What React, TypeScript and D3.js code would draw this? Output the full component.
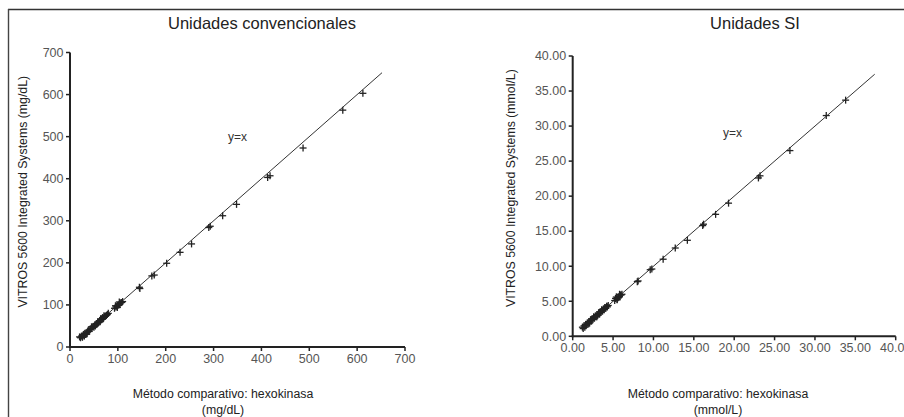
import React from "react";
import * as d3 from "d3";

// ---- Data: conventional units (mg/dL) ----
const convX = [612, 570, 487, 413, 418, 348, 319, 293, 290, 254, 230, 202, 176, 171, 146, 145,
  93, 96, 98, 100, 102, 104, 106, 108, 110, 95, 99, 103,
  20, 22, 24, 26, 27, 28, 30, 31, 33, 35, 37, 38, 40, 42, 44, 46, 48, 50, 52, 54, 55, 57, 58, 60, 62, 63, 65, 67, 68, 70, 72, 74, 76, 78, 80, 35, 45, 53, 64, 71];
const convY = [603, 563, 473, 403, 407, 339, 312, 287, 284, 245, 225, 199, 171, 169, 139, 142,
  92, 95, 97, 99, 100, 103, 105, 106, 108, 98, 94, 107,
  24, 22, 26, 23, 27, 30, 26, 32, 30, 34, 36, 40, 37, 42, 44, 45, 49, 47, 52, 53, 56, 55, 59, 58, 62, 60, 65, 66, 70, 68, 72, 73, 75, 77, 80, 31, 48, 50, 67, 74];

// ---- Data: SI units (mmol/L) ----
const siX = [33.8, 31.4, 26.9, 23.0, 23.2, 19.3, 17.7, 16.2, 16.1, 14.2, 12.7, 11.2, 9.8, 9.6, 8.0, 8.1,
  5.2, 5.3, 5.5, 5.6, 5.7, 5.8, 5.9, 6.0, 6.1, 5.4, 5.5, 5.8,
  1.2, 1.3, 1.4, 1.5, 1.6, 1.7, 1.8, 1.9, 2.0, 2.1, 2.2, 2.3, 2.4, 2.5, 2.6, 2.7, 2.8, 2.9, 3.0, 3.1, 3.2, 3.3, 3.4, 3.5, 3.6, 3.7, 3.8, 3.9, 4.0, 4.1, 4.2, 4.3, 4.4, 2.0, 2.6, 3.0, 3.6, 4.0];
const siY = [33.7, 31.5, 26.5, 22.6, 22.9, 19.0, 17.4, 16.0, 15.8, 13.7, 12.6, 11.0, 9.6, 9.5, 7.8, 7.9,
  5.1, 5.4, 5.3, 5.5, 5.6, 5.7, 5.9, 5.9, 6.0, 5.6, 5.2, 6.0,
  1.3, 1.1, 1.5, 1.3, 1.7, 1.6, 1.9, 1.8, 2.1, 1.9, 2.3, 2.2, 2.5, 2.4, 2.7, 2.6, 2.9, 2.8, 3.1, 3.0, 3.3, 3.2, 3.5, 3.4, 3.7, 3.6, 3.9, 3.8, 4.1, 4.0, 4.3, 4.2, 4.4, 1.8, 2.8, 2.8, 3.8, 4.1];

const convTicks = [0, 100, 200, 300, 400, 500, 600, 700];
const siTicks = [0, 5, 10, 15, 20, 25, 30, 35, 40];

const FONT = "'Liberation Sans', Arial, Helvetica, sans-serif";
const TEXT = "#222";
const TICKTXT = "#555";

type PanelProps = {
  xs: number[];
  ys: number[];
  ticks: number[];
  domainMax: number;
  xRange: [number, number];
  yRange: [number, number];
  fmt: (v: number) => string;
  lineFrom: number;
  lineTo: number;
  labelAt: [number, number];
  title: string;
  titleX: number;
  yLabel: string;
  yLabelX: number;
  xLabel: string;
  xUnit: string;
  xLabelX: number;
};

function Panel(p: PanelProps) {
  const x = d3.scaleLinear().domain([0, p.domainMax]).range(p.xRange);
  const y = d3.scaleLinear().domain([0, p.domainMax]).range(p.yRange);
  const x0 = p.xRange[0];
  const y0 = p.yRange[0];
  const tl = 4;
  const m = 3.5;
  const yMid = (p.yRange[0] + p.yRange[1]) / 2 - 8;
  return (
    <g>
      <text x={p.titleX} y={29} textAnchor="middle" fontFamily={FONT} fontSize={16.5} fill={TEXT}>
        {p.title}
      </text>
      {/* y=x line */}
      <line x1={x(p.lineFrom)} y1={y(p.lineFrom)} x2={x(p.lineTo)} y2={y(p.lineTo)} stroke="#333" strokeWidth={1} />
      {/* markers */}
      {p.xs.map((v, i) => (
        <g key={i} stroke="#222" strokeWidth={1.3}>
          <line x1={x(v) - m} x2={x(v) + m} y1={y(p.ys[i])} y2={y(p.ys[i])} />
          <line x1={x(v)} x2={x(v)} y1={y(p.ys[i]) - m} y2={y(p.ys[i]) + m} />
        </g>
      ))}
      {/* axes */}
      <line x1={x0} x2={x0} y1={p.yRange[1]} y2={y0 + 1} stroke="#222" strokeWidth={2} />
      <line x1={x0 - 1} x2={p.xRange[1]} y1={y0} y2={y0} stroke="#222" strokeWidth={2} />
      {p.ticks.map((t) => (
        <g key={"y" + t}>
          <line x1={x0 - tl} x2={x0} y1={y(t)} y2={y(t)} stroke="#222" strokeWidth={1.5} />
          <text x={x0 - tl - 2.5} y={y(t) + 4.3} textAnchor="end" fontFamily={FONT} fontSize={12.5} fill={TICKTXT}>
            {p.fmt(t)}
          </text>
        </g>
      ))}
      {p.ticks.map((t) => (
        <g key={"x" + t}>
          <line x1={x(t)} x2={x(t)} y1={y0} y2={y0 + tl} stroke="#222" strokeWidth={1.5} />
          <text x={x(t)} y={y0 + tl + 12} textAnchor="middle" fontFamily={FONT} fontSize={12.5} fill={TICKTXT}>
            {p.fmt(t)}
          </text>
        </g>
      ))}
      <text x={x(p.labelAt[0])} y={y(p.labelAt[1]) + 4} textAnchor="middle" fontFamily={FONT} fontSize={12} fill="#333">
        y=x
      </text>
      <text
        transform={`translate(${p.yLabelX},${yMid}) rotate(-90)`}
        textAnchor="middle"
        fontFamily={FONT}
        fontSize={12.3}
        fill={TEXT}
      >
        {p.yLabel}
      </text>
      <text x={p.xLabelX} y={398} textAnchor="middle" fontFamily={FONT} fontSize={12.3} fill={TEXT}>
        {p.xLabel}
      </text>
      <text x={p.xLabelX} y={414} textAnchor="middle" fontFamily={FONT} fontSize={12.3} fill={TEXT}>
        {p.xUnit}
      </text>
    </g>
  );
}

export default function App() {
  return (
    <svg width={904} height={417} style={{ position: "absolute", left: 0, top: 0, background: "#fff" }}>
      <rect x={0} y={0} width={904} height={417} fill="#fff" />
      <line x1={8} x2={904} y1={9.5} y2={9.5} stroke="#333" strokeWidth={1.6} />
      <line x1={8.5} x2={8.5} y1={9} y2={417} stroke="#444" strokeWidth={1.4} />
      <Panel
        xs={convX}
        ys={convY}
        ticks={convTicks}
        domainMax={700}
        xRange={[70, 405]}
        yRange={[347, 52.5]}
        fmt={(v) => String(v)}
        lineFrom={20}
        lineTo={652}
        labelAt={[350, 500]}
        title="Unidades convencionales"
        titleX={262}
        yLabel="VITROS 5600 Integrated Systems (mg/dL)"
        yLabelX={27}
        xLabel="Método comparativo: hexokinasa"
        xUnit="(mg/dL)"
        xLabelX={223}
      />
      <Panel
        xs={siX}
        ys={siY}
        ticks={siTicks}
        domainMax={40}
        xRange={[572.7, 895.7]}
        yRange={[336.3, 56]}
        fmt={(v) => v.toFixed(2)}
        lineFrom={1.1}
        lineTo={37.4}
        labelAt={[19.8, 29]}
        title="Unidades SI"
        titleX={755}
        yLabel="VITROS 5600 Integrated Systems (mmol/L)"
        yLabelX={515}
        xLabel="Método comparativo: hexokinasa"
        xUnit="(mmol/L)"
        xLabelX={718}
      />
    </svg>
  );
}
